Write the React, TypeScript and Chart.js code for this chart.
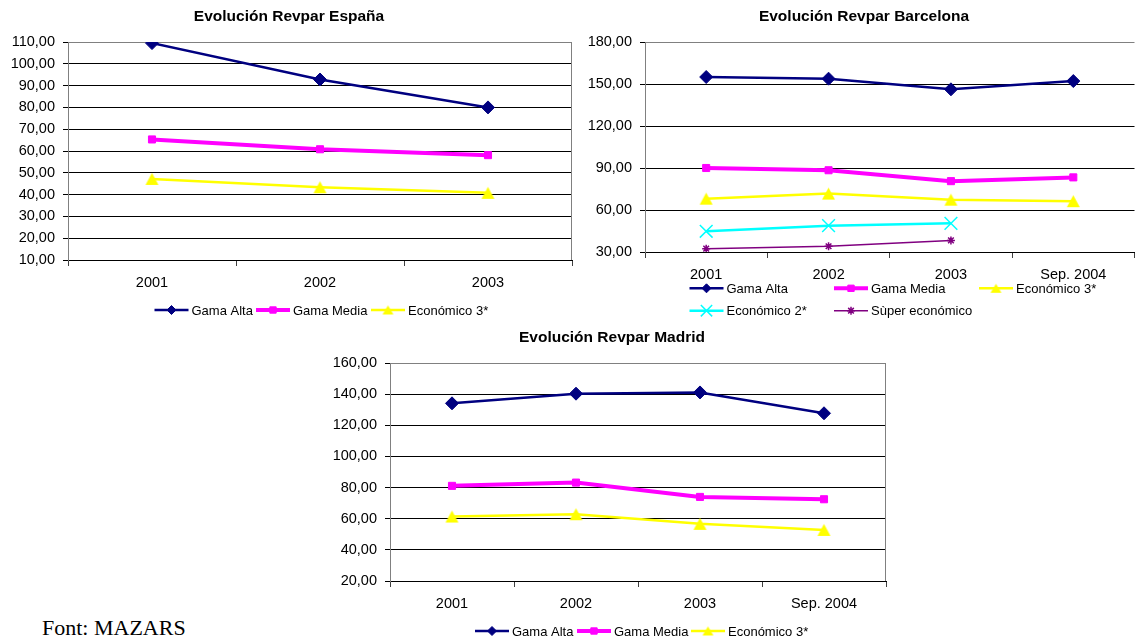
import React, { useEffect, useRef } from 'react';
import { Chart, registerables } from 'chart.js';
import { drawPoint } from 'chart.js/helpers';

Chart.register(...registerables);

// ---------- DATA ----------
const espCategories = ['2001', '2002', '2003'];
const espGamaAlta = [109.5, 92.8, 80.0];
const espGamaMedia = [65.3, 60.8, 58.1];
const espEconomico3 = [47.2, 43.4, 40.8];

const cityCategories = ['2001', '2002', '2003', 'Sep. 2004'];

const bcnGamaAlta = [155.0, 153.8, 146.2, 152.1];
const bcnGamaMedia = [90.0, 88.4, 80.6, 83.3];
const bcnEconomico3 = [68.1, 71.7, 67.4, 66.3];
const bcnEconomico2 = [44.8, 48.8, 50.5, null];
const bcnSuperEconomico = [32.4, 34.1, 38.3, null];

const madGamaAlta = [134.1, 140.3, 141.1, 127.7];
const madGamaMedia = [81.1, 83.2, 74.0, 72.5];
const madEconomico3 = [61.4, 62.9, 56.7, 52.8];

const seriesLabels = ['Gama Alta', 'Gama Media', 'Económico 3*', 'Económico 2*', 'Sùper económico'];

const espAxis = { min: 10, max: 110, step: 10 };
const bcnAxis = { min: 30, max: 180, step: 30 };
const madAxis = { min: 20, max: 160, step: 20 };

const titles = ['Evolución Revpar España', 'Evolución Revpar Barcelona', 'Evolución Revpar Madrid'];
const sourceNote = 'Font: MAZARS';

// ---------- STYLES ----------
const FONT = '"Liberation Sans", Arial, Helvetica, sans-serif';
const STYLE = [
  { color: '#000080', width: 2.5, point: 'rectRot', r: 6.5, lr: 4.5 },
  { color: '#FF00FF', width: 4, point: 'rect', r: 5, lr: 4.5 },
  { color: '#FFFF00', width: 2.5, point: 'triangleImg', r: 7, lr: 6.5 },
  { color: '#00FFFF', width: 2.5, point: 'crossRot', r: 9, lr: 8 },
  { color: '#800080', width: 1.5, point: 'star', r: 4, lr: 4 },
];

// Excel-like triangle, bounding box centred on the point
function makeTriangle(w: number, h: number, color: string) {
  const c = document.createElement('canvas');
  c.width = Math.ceil(w) + 2;
  c.height = Math.ceil(h) + 2;
  const ctx = c.getContext('2d')!;
  ctx.fillStyle = color;
  ctx.beginPath();
  ctx.moveTo(1, h + 1);
  ctx.lineTo(w + 1, h + 1);
  ctx.lineTo(w / 2 + 1, 1);
  ctx.closePath();
  ctx.fill();
  return c;
}

let triChart: HTMLCanvasElement | null = null;
let triLegend: HTMLCanvasElement | null = null;
function getTriangles() {
  if (!triChart) triChart = makeTriangle(13, 12, '#FFFF00');
  if (!triLegend) triLegend = makeTriangle(11, 9, '#FFFF00');
  return { triChart, triLegend };
}

function makeDataset(i: number, data: (number | null)[]) {
  const s = STYLE[i];
  const tri = getTriangles();
  const isTri = s.point === 'triangleImg';
  return {
    label: seriesLabels[i],
    data,
    borderColor: s.color,
    backgroundColor: s.color,
    borderWidth: s.width,
    pointStyle: isTri ? tri.triChart : s.point,
    pointRadius: s.r,
    pointHoverRadius: s.r,
    pointBackgroundColor: s.color,
    pointBorderColor: s.color,
    pointBorderWidth: i >= 3 ? 1.5 : 1,
    tension: 0,
    fill: false,
    spanGaps: false,
  };
}

type LegendItem = { index: number; x: number; y: number };
type Decor = {
  title: string;
  titleX: number;
  titleY: number;
  legend: LegendItem[];
  rightBorder: boolean;
};

function makeDecorPlugin(d: Decor) {
  return {
    id: 'decor',
    afterDraw(chart: any) {
      const ctx = chart.ctx as CanvasRenderingContext2D;
      const area = chart.chartArea;
      ctx.save();
      if (d.rightBorder) {
        ctx.strokeStyle = '#808080';
        ctx.lineWidth = 1;
        const x = Math.round(area.right) - 0.5;
        ctx.beginPath();
        ctx.moveTo(x, area.top);
        ctx.lineTo(x, area.bottom);
        ctx.stroke();
      }
      ctx.fillStyle = '#000';
      ctx.font = 'bold 15.5px ' + FONT;
      ctx.textAlign = 'center';
      ctx.textBaseline = 'alphabetic';
      ctx.fillText(d.title, d.titleX, d.titleY);

      d.legend.forEach((item) => {
        const ds = chart.data.datasets[item.index];
        const s = STYLE[item.index];
        ctx.strokeStyle = ds.borderColor;
        ctx.lineWidth = ds.borderWidth;
        ctx.beginPath();
        ctx.moveTo(item.x, item.y);
        ctx.lineTo(item.x + 34, item.y);
        ctx.stroke();
        ctx.fillStyle = ds.pointBackgroundColor;
        ctx.strokeStyle = ds.pointBorderColor;
        ctx.lineWidth = ds.pointBorderWidth;
        const style = s.point === 'triangleImg' ? getTriangles().triLegend : s.point;
        drawPoint(ctx, { pointStyle: style, radius: s.lr, borderWidth: ds.pointBorderWidth, rotation: 0 } as any, item.x + 17, item.y);
        ctx.fillStyle = '#000';
        ctx.font = '13px ' + FONT;
        ctx.textAlign = 'left';
        ctx.textBaseline = 'alphabetic';
        ctx.fillText(ds.label, item.x + 37, item.y + 4.7);
      });
      ctx.restore();
    },
  };
}

type Props = {
  left: number;
  top: number;
  width: number;
  height: number;
  categories: string[];
  datasets: any[];
  axis: { min: number; max: number; step: number };
  pad: { top: number; right: number };
  yWidth: number;
  xHeight: number;
  decor: Decor;
};

function LineChart(p: Props) {
  const ref = useRef<HTMLCanvasElement>(null);
  useEffect(() => {
    if (!ref.current) return;
    const chart = new Chart(ref.current, {
      type: 'line',
      data: { labels: p.categories, datasets: p.datasets },
      options: {
        responsive: false,
        animation: false,
        devicePixelRatio: 1,
        layout: { padding: { top: p.pad.top, right: p.pad.right, left: 0, bottom: 0 } },
        plugins: { legend: { display: false }, title: { display: false }, tooltip: { enabled: false } },
        elements: { line: { tension: 0 } },
        scales: {
          x: {
            type: 'category',
            offset: true,
            grid: { offset: true, drawOnChartArea: false, drawTicks: true, tickLength: 6, color: '#404040' },
            border: { color: '#000', width: 1 },
            ticks: { color: '#000', font: { family: FONT, size: 14.5 }, padding: 8, maxRotation: 0, autoSkip: false },
            afterFit: (s: any) => {
              s.height = p.xHeight;
            },
          },
          y: {
            min: p.axis.min,
            max: p.axis.max,
            grid: {
              color: (c: any) => (c.tick && c.tick.value === p.axis.max ? '#808080' : '#000000'),
              tickColor: '#000',
              tickLength: 5,
              drawTicks: true,
            },
            border: { color: '#808080', width: 1 },
            ticks: {
              stepSize: p.axis.step,
              color: '#000',
              font: { family: FONT, size: 14.5 },
              padding: 8,
              callback: (v: any) => Number(v).toFixed(2).replace('.', ','),
            },
            afterFit: (s: any) => {
              s.width = p.yWidth;
            },
          },
        },
      } as any,
      plugins: [makeDecorPlugin(p.decor)],
    });
    return () => chart.destroy();
  }, []);
  return (
    <canvas
      ref={ref}
      width={p.width}
      height={p.height}
      style={{ position: 'absolute', left: p.left, top: p.top, width: p.width, height: p.height, display: 'block' }}
    />
  );
}

export default function App() {
  const espDatasets = [makeDataset(0, espGamaAlta), makeDataset(1, espGamaMedia), makeDataset(2, espEconomico3)];
  const bcnDatasets = [
    makeDataset(0, bcnGamaAlta),
    makeDataset(1, bcnGamaMedia),
    makeDataset(2, bcnEconomico3),
    makeDataset(3, bcnEconomico2),
    makeDataset(4, bcnSuperEconomico),
  ];
  const madDatasets = [makeDataset(0, madGamaAlta), makeDataset(1, madGamaMedia), makeDataset(2, madEconomico3)];

  return (
    <div style={{ position: 'absolute', left: 0, top: 0, width: 1145, height: 641, background: '#fff', overflow: 'hidden' }}>
      <LineChart
        left={0}
        top={0}
        width={580}
        height={325}
        categories={espCategories}
        datasets={espDatasets}
        axis={espAxis}
        pad={{ top: 42, right: 8 }}
        yWidth={68}
        xHeight={65}
        decor={{
          title: titles[0],
          titleX: 289,
          titleY: 20.7,
          rightBorder: true,
          legend: [
            { index: 0, x: 154.5, y: 310 },
            { index: 1, x: 256, y: 310 },
            { index: 2, x: 371, y: 310 },
          ],
        }}
      />
      <LineChart
        left={583}
        top={0}
        width={562}
        height={325}
        categories={cityCategories}
        datasets={bcnDatasets}
        axis={bcnAxis}
        pad={{ top: 42, right: 0 }}
        yWidth={62}
        xHeight={73}
        decor={{
          title: titles[1],
          titleX: 281,
          titleY: 20.7,
          rightBorder: false,
          legend: [
            { index: 0, x: 106.5, y: 288.3 },
            { index: 1, x: 251, y: 288.3 },
            { index: 2, x: 396, y: 288.3 },
            { index: 3, x: 106.5, y: 310.7 },
            { index: 4, x: 251, y: 310.7 },
          ],
        }}
      />
      <LineChart
        left={330}
        top={320}
        width={564}
        height={321}
        categories={cityCategories}
        datasets={madDatasets}
        axis={madAxis}
        pad={{ top: 43, right: 1 }}
        yWidth={60}
        xHeight={60}
        decor={{
          title: titles[2],
          titleX: 282,
          titleY: 22.4,
          rightBorder: true,
          legend: [
            { index: 0, x: 145, y: 311 },
            { index: 1, x: 247, y: 311 },
            { index: 2, x: 361, y: 311 },
          ],
        }}
      />
      <div
        style={{
          position: 'absolute',
          left: 42,
          top: 617,
          fontFamily: '"Liberation Serif", "Times New Roman", serif',
          fontSize: 22,
          lineHeight: '22px',
          color: '#000',
          whiteSpace: 'nowrap',
        }}
      >
        {sourceNote}
      </div>
    </div>
  );
}
